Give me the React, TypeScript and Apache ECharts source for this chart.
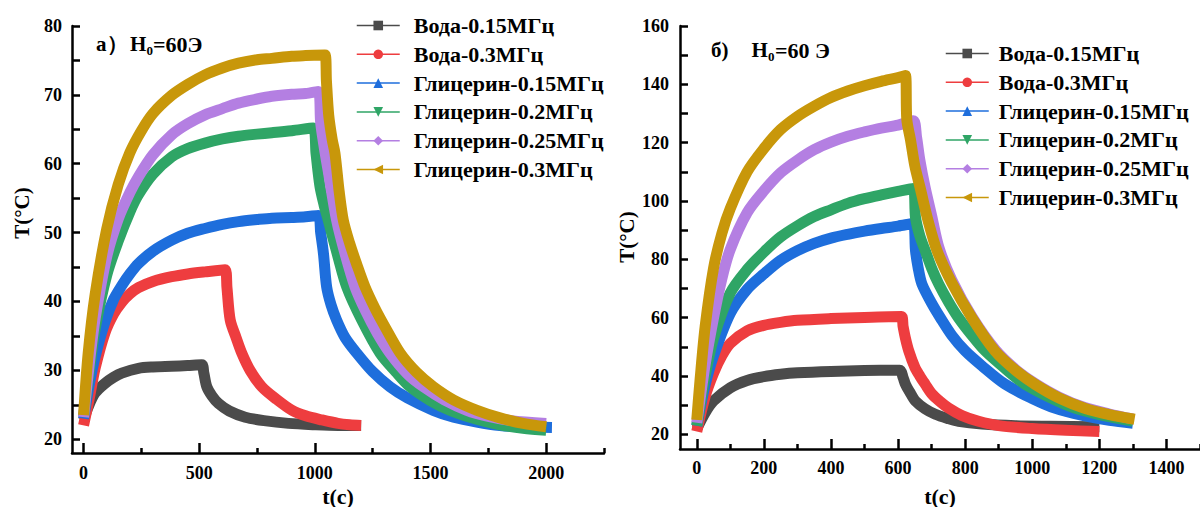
import React, { useEffect, useRef } from "react";
import * as echarts from "echarts";

// ---------- Tick values ----------
const L_X_LABELS = [0, 500, 1000, 1500, 2000];
const L_X_MINOR = [250, 750, 1250, 1750, 2250];
const L_Y_LABELS = [20, 30, 40, 50, 60, 70, 80];
const L_Y_TICKS = [20, 25, 30, 35, 40, 45, 50, 55, 60, 65, 70, 75, 80];
const R_X_LABELS = [0, 200, 400, 600, 800, 1000, 1200, 1400];
const R_X_MINOR = [100, 300, 500, 700, 900, 1100, 1300, 1500];
const R_Y_LABELS = [20, 40, 60, 80, 100, 120, 140, 160];
const R_Y_TICKS = [20, 30, 40, 50, 60, 70, 80, 90, 100, 110, 120, 130, 140, 150, 160];

const NAMES = [
  "Вода-0.15МГц",
  "Вода-0.3МГц",
  "Глицерин-0.15МГц",
  "Глицерин-0.2МГц",
  "Глицерин-0.25МГц",
  "Глицерин-0.3МГц",
];

// ---------- Left panel (a) ----------
const L1_t = [0, 20, 49, 92, 130, 165, 237, 300, 381, 450, 511, 520, 533, 555, 583, 630, 699, 780, 886, 1000, 1100, 1200];
const L1_T = [22.8, 24.7, 26.7, 28.1, 29, 29.6, 30.3, 30.5, 30.6, 30.7, 30.8, 29.6, 27.6, 26.3, 25.2, 24.1, 23.2, 22.7, 22.3, 22.1, 22, 22];

const L2_t = [0, 25, 50, 92, 130, 165, 200, 237, 300, 381, 450, 525, 612, 620, 634, 660, 684, 720, 771, 834, 901, 960, 1031, 1100, 1150, 1200];
const L2_T = [22, 26, 30.3, 35.4, 38.2, 39.9, 41.1, 42, 42.9, 43.6, 44, 44.3, 44.6, 42, 37.3, 34.7, 32.5, 30, 27.6, 25.8, 24.2, 23.4, 22.8, 22.3, 22.1, 22];

const L3_t = [0, 25, 50, 92, 130, 165, 200, 237, 300, 381, 450, 525, 600, 670, 750, 814, 900, 960, 1015, 1025, 1037, 1051, 1070, 1094, 1130, 1181, 1250, 1325, 1400, 1512, 1600, 1700, 1800, 1900, 2025];
const L3_T = [23, 28, 32, 37, 40.3, 42.3, 44, 45.5, 47.3, 48.9, 49.9, 50.6, 51.2, 51.6, 51.9, 52.1, 52.2, 52.3, 52.5, 50, 47, 42.1, 39.5, 37.3, 34.8, 32.5, 29.8, 27.6, 26, 24.2, 23.2, 22.5, 22, 21.8, 21.7];

const L4_t = [0, 25, 50, 100, 150, 200, 237, 300, 381, 450, 525, 600, 670, 750, 814, 900, 993, 1005, 1022, 1040, 1058, 1100, 1138, 1200, 1282, 1350, 1412, 1500, 1585, 1700, 1800, 1900, 2000];
const L4_T = [23.3, 30, 36, 43.8, 48.8, 53, 55.5, 58.5, 61, 62.2, 63, 63.6, 64, 64.3, 64.5, 64.8, 65.2, 61.5, 56.7, 54, 51.8, 46.5, 42.1, 37.5, 32.5, 29.8, 27.6, 25.6, 24.2, 22.9, 22.1, 21.6, 21.3];

const L5_t = [0, 25, 50, 100, 150, 200, 237, 300, 381, 450, 525, 600, 670, 750, 814, 900, 960, 1015, 1025, 1040, 1060, 1094, 1130, 1174, 1220, 1270, 1325, 1400, 1470, 1560, 1657, 1750, 1850, 2000];
const L5_T = [23.2, 31, 37.5, 46.5, 52, 55.8, 58.1, 61.3, 64.2, 65.8, 67.1, 68, 68.8, 69.4, 69.8, 70.1, 70.2, 70.5, 66, 62.5, 58.5, 51.8, 47, 42.1, 38.6, 35.4, 32.5, 29.5, 27.6, 25.7, 24.2, 23.3, 22.7, 22.3];

const L6_t = [0, 20, 50, 100, 150, 200, 250, 300, 380, 450, 525, 600, 670, 750, 814, 900, 960, 1044, 1050, 1060, 1075, 1087, 1105, 1123, 1150, 1180, 1217, 1260, 1300, 1369, 1440, 1513, 1600, 1701, 1800, 1900, 2000];
const L6_T = [23.5, 32.5, 41, 50.5, 57, 61.6, 64.8, 67.3, 69.9, 71.5, 72.9, 73.9, 74.6, 75.1, 75.3, 75.6, 75.7, 75.8, 72, 67, 63.5, 61.5, 56, 51.8, 48.5, 45.5, 42.1, 39, 36.5, 32.5, 29.7, 27.6, 25.7, 24.2, 23.1, 22.3, 21.8];

// ---------- Right panel (б) ----------
const R1_t = [0, 25, 50, 100, 150, 200, 250, 300, 400, 500, 605, 615, 622, 635, 652, 680, 711, 750, 780, 850, 950, 1050, 1200];
const R1_T = [22, 27.5, 31.5, 36, 38.5, 39.8, 40.6, 41.1, 41.6, 41.9, 42, 39.5, 37.2, 34.5, 31.4, 28.8, 26.9, 25.4, 24.5, 23.6, 23, 22.8, 22.6];

const R2_t = [0, 25, 50, 75, 100, 150, 200, 250, 300, 400, 500, 610, 615, 622, 632, 650, 665, 681, 700, 725, 751, 790, 840, 900, 1000, 1100, 1200];
const R2_T = [21, 33, 41, 47, 51.2, 55.5, 57.4, 58.4, 59.1, 59.7, 60.1, 60.4, 57, 53, 48.6, 43, 40, 37.2, 34, 31.3, 29, 26.5, 24.5, 23, 22, 21.4, 21];

const R3_t = [0, 25, 50, 100, 150, 200, 250, 300, 350, 400, 450, 500, 550, 600, 645, 652, 660, 671, 700, 726, 760, 800, 850, 919, 1000, 1067, 1150, 1230, 1300];
const R3_T = [23, 37, 47, 61.5, 69.7, 75, 79.7, 83, 85.5, 87.3, 88.6, 89.7, 90.6, 91.4, 92.3, 83, 77, 71.6, 65, 60, 54, 48.6, 43.5, 37.2, 32.3, 29, 26.5, 24.8, 23.8];

const R4_t = [0, 25, 50, 100, 150, 200, 250, 300, 350, 400, 450, 500, 550, 600, 645, 652, 665, 681, 700, 721, 750, 780, 820, 860, 920, 978, 1050, 1127, 1200, 1300];
const R4_T = [23, 40, 53, 68.5, 76.5, 82.5, 87.7, 91.5, 94.7, 97, 99.2, 100.8, 102.1, 103.3, 104.3, 94.4, 88, 83, 77, 71.6, 65.5, 60, 54, 48.6, 42.5, 37.2, 32.8, 29, 26.8, 24.6];

const R5_t = [0, 25, 50, 75, 100, 150, 200, 250, 300, 350, 400, 450, 500, 550, 600, 645, 655, 665, 680, 700, 722, 760, 822, 890, 950, 1008, 1080, 1156, 1230, 1300];
const R5_T = [24, 44, 60, 73.5, 83.5, 96, 103.5, 109.7, 114, 117.6, 120.2, 122.2, 123.7, 125, 126, 127.5, 122, 114, 105, 95, 84, 73, 60, 49, 42.3, 37.5, 32.8, 29.2, 27, 25.3];

const R6_t = [0, 10, 25, 50, 75, 100, 150, 200, 250, 300, 350, 400, 450, 500, 550, 600, 622, 626, 637, 650, 667, 690, 716, 760, 820, 889, 950, 1008, 1080, 1156, 1230, 1305];
const R6_T = [25, 39, 57, 77, 89, 97.5, 110, 118, 124.5, 129, 132.5, 135.5, 137.7, 139.5, 141, 142.3, 143, 128, 121, 112, 104, 93, 83, 72, 60, 48.6, 42, 37.2, 32.5, 29, 26.8, 25.2];

const COLORS = ["#4b4b4b", "#ee3d3f", "#1e6edc", "#2fa566", "#b47fe2", "#c8970a"];
const SYMBOLS = ["rect", "circle", "triangle", "triangle", "diamond", "triangle"];
const ROTATE = [0, 0, 0, 180, 0, 90];

const LEFT = [[L1_t, L1_T], [L2_t, L2_T], [L3_t, L3_T], [L4_t, L4_T], [L5_t, L5_T], [L6_t, L6_T]];
const RIGHT = [[R1_t, R1_T], [R2_t, R2_T], [R3_t, R3_T], [R4_t, R4_T], [R5_t, R5_T], [R6_t, R6_T]];

const FONT = '"Liberation Serif", "Times New Roman", serif';

function zip(t: number[], v: number[]) {
  return t.map((x, i) => [x, v[i]]);
}

function mkSeries(sets: number[][][], axis: number) {
  return sets.map((s, i) => ({
    type: "line",
    name: NAMES[i],
    xAxisIndex: axis,
    yAxisIndex: axis,
    data: zip(s[0], s[1]),
    color: COLORS[i],
    symbol: SYMBOLS[i],
    symbolRotate: ROTATE[i],
    symbolSize: 10,
    showSymbol: false,
    smooth: 0.3,
    lineStyle: { width: 11, color: COLORS[i], join: "round" },
    z: 2 + i,
    silent: true,
  }));
}

const plain = (v: number) => String(v);

function mkX(grid: number, min: number, max: number, labels: number[], margin: number) {
  return {
    type: "value",
    gridIndex: grid,
    min,
    max,
    position: "bottom",
    splitLine: { show: false },
    axisLine: { show: true, onZero: false, lineStyle: { color: "#000", width: 2.5 } },
    axisTick: { show: true, inside: true, length: 10, customValues: labels, lineStyle: { color: "#000", width: 2.5 } },
    axisLabel: { show: true, customValues: labels, formatter: plain, margin, color: "#000", fontFamily: FONT, fontWeight: "bold", fontSize: 18 },
  };
}

function mkXMinor(grid: number, min: number, max: number, ticks: number[]) {
  return {
    type: "value",
    gridIndex: grid,
    min,
    max,
    position: "bottom",
    splitLine: { show: false },
    axisLine: { show: false, onZero: false },
    axisTick: { show: true, inside: true, length: 5, customValues: ticks, lineStyle: { color: "#000", width: 2.5 } },
    axisLabel: { show: false },
  };
}

function mkY(grid: number, min: number, max: number, labels: number[], ticks: number[], margin: number) {
  return {
    type: "value",
    gridIndex: grid,
    min,
    max,
    position: "left",
    splitLine: { show: false },
    axisLine: { show: true, onZero: false, lineStyle: { color: "#000", width: 2.5 } },
    axisTick: { show: true, inside: true, length: 8, customValues: ticks, lineStyle: { color: "#000", width: 2.5 } },
    axisLabel: { show: true, customValues: labels, formatter: plain, margin, color: "#000", fontFamily: FONT, fontWeight: "bold", fontSize: 18 },
  };
}

function mkLegend(left: number, top: number, pad: number) {
  return {
    orient: "vertical",
    left,
    top,
    padding: 0,
    itemWidth: 43,
    itemHeight: 12,
    itemGap: 6.8,
    data: NAMES,
    selectedMode: false,
    lineStyle: { width: 1.5 },
    textStyle: {
      color: "#000",
      fontFamily: FONT,
      fontWeight: "bold",
      fontSize: 22,
      lineHeight: 21,
      padding: [0, 0, 0, pad],
    },
  };
}

function txt(x: number, y: number, text: string, size: number, extra: any = {}) {
  return {
    type: "text",
    x,
    y,
    ...extra,
    style: {
      text,
      fill: "#000",
      fontFamily: FONT,
      fontWeight: "bold",
      fontSize: size,
      align: extra.align || "left",
      verticalAlign: "middle",
    },
  };
}

export default function App() {
  const ref = useRef<HTMLDivElement>(null);
  useEffect(() => {
    document.body.style.margin = "0";
    const chart = echarts.init(ref.current!, null, { renderer: "svg" });
    const option: any = {
      animation: false,
      backgroundColor: "#fff",
      grid: [
        { left: 72, top: 26, width: 532, height: 427 },
        { left: 680, top: 26, width: 520, height: 423 },
      ],
      xAxis: [
        mkX(0, -50, 2250, L_X_LABELS, 11),
        mkX(1, -50, 1500, R_X_LABELS, 10),
        mkXMinor(0, -50, 2250, L_X_MINOR),
        mkXMinor(1, -50, 1500, R_X_MINOR),
      ],
      yAxis: [
        mkY(0, 18, 80, L_Y_LABELS, L_Y_TICKS, 10),
        mkY(1, 15, 160, R_Y_LABELS, R_Y_TICKS, 11),
      ],
      legend: [mkLegend(356, 14.5, 9), mkLegend(945, 42.5, 5)],
      series: [...mkSeries(LEFT, 0), ...mkSeries(RIGHT, 1)],
      graphic: [
        txt(22, 213, "T(°C)", 21, { rotation: Math.PI / 2, align: "center" }),
        txt(627, 237, "T(°C)", 21, { rotation: Math.PI / 2, align: "center" }),
        txt(338, 496, "t(c)", 22, { align: "center" }),
        txt(940, 496, "t(c)", 22, { align: "center" }),
        txt(96, 44, "a）", 21),
        txt(130, 44, "H", 21),
        txt(146.5, 50, "0", 13),
        txt(153, 44, "=60Э", 22),
        txt(711, 50, "б)", 21),
        txt(751.5, 50, "H", 21),
        txt(768, 56, "0", 13),
        txt(775, 50, "=60 Э", 22),
      ],
    };
    chart.setOption(option);
    return () => chart.dispose();
  }, []);
  return <div ref={ref} style={{ position: "fixed", left: 0, top: 0, width: 1200, height: 507 }} />;
}
